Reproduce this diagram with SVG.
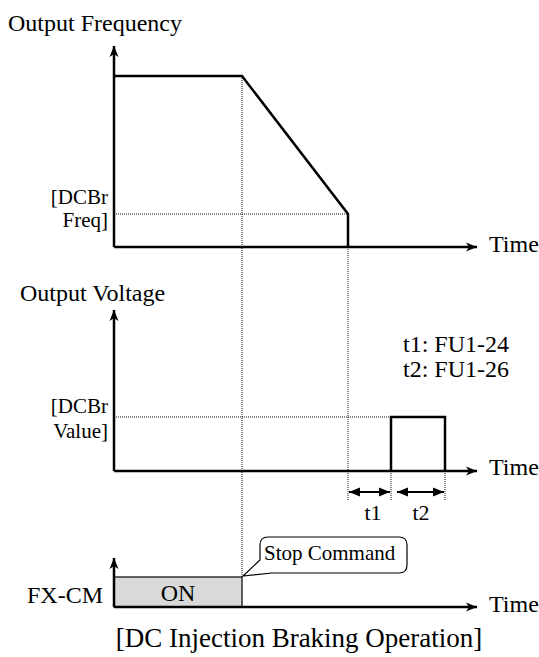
<svg xmlns="http://www.w3.org/2000/svg" width="539" height="657" viewBox="0 0 539 657">
<defs>
<style>
text{font-family:"Liberation Serif","Times New Roman",serif;fill:#000}
.l{font-size:24px}
.s{font-size:21px}
.ax{stroke:#000;stroke-width:2.5;fill:none}
.tr{stroke:#000;stroke-width:2.5;fill:none;stroke-linejoin:miter}
.dot{stroke:#111;stroke-width:1;stroke-dasharray:1 1;fill:none}
.dim{stroke:#000;stroke-width:2;fill:none}
</style>
<marker id="ah" viewBox="0 0 12 10" refX="11" refY="5" markerWidth="12" markerHeight="10" markerUnits="userSpaceOnUse" orient="auto">
<path d="M0,0.5 L11,5 L0,9.5 L3,5 Z" fill="#000"/>
</marker>
<marker id="dh" viewBox="0 0 12 10" refX="11" refY="5" markerWidth="12" markerHeight="10" markerUnits="userSpaceOnUse" orient="auto-start-reverse">
<path d="M0,0.5 L11,5 L0,9.5 Z" fill="#000"/>
</marker>
</defs>
<rect width="539" height="657" fill="#fff"/>

<g id="guides">
<path class="dot" d="M242,76 V577"/>
<path class="dot" d="M114,214 H348"/>
<path class="dot" d="M348,247 V500"/>
<path class="dot" d="M114,417 H391"/>
<path class="dot" d="M391,471 V500"/>
<path class="dot" d="M445,471 V500"/>
</g>

<g id="freq-chart">
<text class="l" x="8" y="31">Output Frequency</text>
<path class="ax" d="M114,247 V46" marker-end="url(#ah)"/>
<path class="ax" d="M114,247 H477" marker-end="url(#ah)"/>
<path class="tr" d="M114,76 H242 L348,214 V247"/>
<text class="s" x="108" y="204" text-anchor="end">[DCBr</text>
<text class="s" x="108" y="227" text-anchor="end">Freq]</text>
<text class="l" x="489" y="252">Time</text>
</g>

<g id="volt-chart">
<text class="l" x="20" y="301">Output Voltage</text>
<path class="ax" d="M114,471 V310" marker-end="url(#ah)"/>
<path class="ax" d="M114,471 H477" marker-end="url(#ah)"/>
<path class="tr" d="M391,471 V417 H445 V471"/>
<text class="s" x="108" y="413" text-anchor="end">[DCBr</text>
<text class="s" x="108" y="438" text-anchor="end">Value]</text>
<text class="l" x="489" y="475">Time</text>
<text class="l" x="403" y="352">t1: FU1-24</text>
<text class="l" x="403" y="377">t2: FU1-26</text>
</g>

<g id="connectors">
<path class="dim" d="M349,492 H390" marker-start="url(#dh)" marker-end="url(#dh)"/>
<path class="dim" d="M397,492 H444" marker-start="url(#dh)" marker-end="url(#dh)"/>
</g>
<g id="dim-labels">
<text class="s" x="373" y="520" text-anchor="middle" style="font-size:22px">t1</text>
<text class="s" x="421" y="520" text-anchor="middle" style="font-size:22px">t2</text>
</g>

<g id="fx-chart">
<rect x="114" y="577" width="128" height="30" fill="#d9d9d9" stroke="#000" stroke-width="1.2"/>
<path class="ax" d="M114,607 V558" marker-end="url(#ah)"/>
<path class="ax" d="M114,607 H477" marker-end="url(#ah)"/>
<text class="l" x="178" y="601" text-anchor="middle">ON</text>
<text class="l" x="103" y="603" text-anchor="end">FX-CM</text>
<text class="l" x="489" y="612">Time</text>
</g>

<g id="stop-callout">
<path d="M268,537 H399 Q407,537 407,545 V565 Q407,573 399,573 H272 L243,576 L260,560 V545 Q260,537 268,537 Z" fill="#fff" stroke="#000" stroke-width="1.2"/>
<text class="s" x="264" y="560">Stop Command</text>
</g>

<g id="caption">
<text x="299" y="647" text-anchor="middle" style="font-size:27px">[DC Injection Braking Operation]</text>
</g>
</svg>
